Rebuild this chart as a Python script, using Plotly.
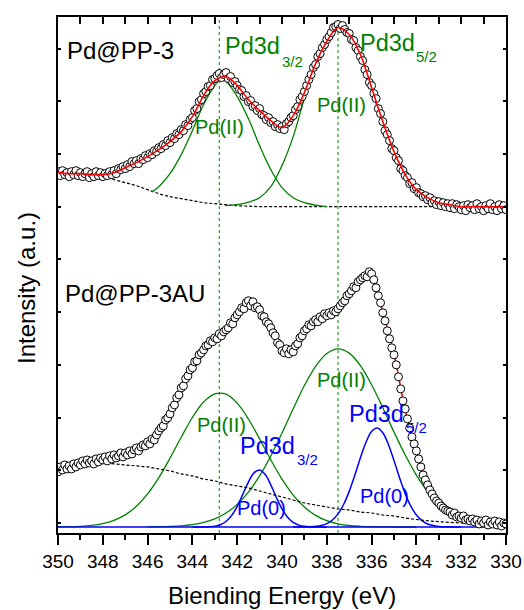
import plotly.graph_objects as go


def grid(start, stop, step):
    n = int(round((start - stop) / step)) + 1
    return [round(start - i * step, 2) for i in range(n)]


# ---------------- energies (eV) ----------------
E_DATA = grid(350, 330, 0.1)          # measured points
E_FIT = grid(350, 330, 0.5)           # top fit / background grid

# ---------------- Pd@PP-3 (top) ----------------
TOP_DATA = [
    355, 351, 356, 352, 354, 350, 355, 352, 356, 351,
    354, 350, 353, 355, 349, 353, 350, 355, 351, 354,
    350, 353, 351, 355, 352, 356, 353, 358, 357, 360,
    358, 362, 360, 365, 363, 366, 363, 368, 367, 371,
    369, 373, 372, 376, 375, 379, 378, 382, 381, 386,
    384, 389, 388, 393, 392, 397, 396, 402, 401, 407,
    409, 416, 418, 425, 427, 433, 435, 440, 441, 447,
    448, 451, 453, 449, 452, 454, 448, 450, 444, 445,
    441, 437, 436, 430, 431, 425, 426, 420, 421, 416,
    418, 412, 411, 407, 409, 404, 405, 400, 402, 398,
    400, 397, 403, 405, 409, 411, 417, 420, 427, 430,
    435, 441, 447, 452, 459, 462, 470, 473, 479, 482,
    487, 490, 494, 499, 500, 502, 498, 501, 497, 494,
    493, 487, 486, 479, 476, 470, 466, 457, 452, 444,
    441, 433, 428, 418, 413, 405, 396, 392, 386, 378,
    376, 369, 366, 358, 356, 351, 349, 343, 344, 338,
    339, 334, 333, 330, 331, 327, 329, 324, 326, 322,
    325, 321, 324, 320, 323, 319, 323, 318, 322, 320,
    317, 321, 316, 322, 319, 321, 317, 323, 318, 320,
    316, 321, 318, 323, 317, 320, 316, 322, 318, 321,
    317,
]
TOP_FIT = [354, 353, 353, 352, 352, 354, 359, 364, 370, 377, 385, 395, 410, 431,
           446, 450, 441, 427, 416, 406, 399, 411, 434, 463, 485, 499, 492, 472,
           439, 405, 375, 352, 337, 329, 324, 322, 320, 320, 320, 320, 320]
TOP_BG = [354, 353, 352, 351, 350, 347, 344, 341, 337, 333, 330, 328, 326, 324,
          323, 322, 321, 320.5, 320] + [320] * 22
E_TOP_G32 = [345.8, 345.5, 345, 344.5, 344, 343.5, 343, 342.75, 342.5, 342,
             341.5, 341, 340.5, 340, 339.5, 339, 338.5, 338]
TOP_G32 = [335, 340, 353, 372, 396, 422, 441, 447, 445, 430, 408, 381, 357,
           339, 329, 324, 321.5, 320]
E_TOP_G52 = [342.55, 342, 341.5, 341, 340.5, 340, 339.5, 339, 338.5, 338, 337.5,
             337, 336.5, 336, 335.5, 335, 334.5, 334, 333.5, 333, 332.5, 332, 331]
TOP_G52 = [321, 322, 324.5, 329, 340, 361, 390, 428, 461, 484, 497, 490, 470,
           437, 402, 371, 347, 333, 326, 322, 320.5, 320, 320]

# ---------------- Pd@PP-3AU (bottom) ----------------
BOT_DATA = [
    55, 60, 57, 62, 58, 61, 58, 63, 60, 64,
    62, 66, 63, 67, 64, 66, 63, 68, 65, 69,
    67, 70, 66, 71, 68, 72, 69, 71, 74, 70,
    74, 72, 76, 73, 77, 79, 76, 80, 82, 81,
    85, 83, 88, 87, 92, 96, 99, 101, 107, 109,
    113, 119, 122, 129, 132, 139, 141, 148, 151, 157,
    159, 165, 166, 172, 174, 177, 181, 182, 186, 185,
    189, 188, 193, 191, 195, 197, 199, 204, 203, 209,
    212, 215, 219, 218, 224, 226, 221, 225, 219, 220,
    217, 211, 210, 205, 203, 199, 194, 191, 184, 182,
    176, 174, 178, 173, 177, 175, 181, 183, 189, 191,
    196, 198, 202, 201, 205, 207, 205, 210, 208, 213,
    211, 214, 212, 216, 215, 218, 221, 224, 226, 231,
    233, 236, 240, 239, 245, 247, 249, 251, 250, 255,
    253, 247, 239, 231, 224, 214, 206, 196, 188, 179,
    172, 162, 150, 138, 126, 118, 108, 99, 90, 83,
    76, 68, 60, 52, 47, 42, 37, 33, 29, 26,
    24, 21, 19, 17, 16, 15, 12, 14, 10, 11,
    9, 11, 7, 8, 6, 8, 5, 7, 3, 6,
    4, 7, 2, 5, 3, 6, 2, 5, 1, 4,
    3,
]
E_BOT_FIT = grid(348.5, 331, 0.5)
BOT_FIT = [65, 68, 70, 73, 77, 84, 95, 113, 137, 160, 178, 188, 196, 211, 224,
           216, 200, 177, 176, 195, 206, 212, 217, 232, 246, 253, 215, 173, 117,
           77, 42, 24, 15, 10, 7, 5]
E_BOT_BG = grid(348.5, 330, 0.5)
BOT_BG = [64, 64, 63, 62, 61, 60, 58, 56, 53, 51, 48, 46, 43, 41, 39, 36, 33, 30,
          27, 24, 22, 20, 18, 17, 15, 14, 12, 11, 9, 7.5, 6.3, 5.3, 4.6, 4.0,
          3.5, 3.0, 2.5, 2.0]
E_BOT_G32 = grid(350, 334, 0.5)
BOT_G32 = [0.1, 0.3, 0.7, 1.6, 3.4, 6.7, 12.1, 20.7, 33.0, 49.3, 68.8, 89.7,
           109.4, 124.8, 133.0, 132.7, 123.7, 107.9, 88.0, 67.1, 47.8, 31.9,
           19.9, 11.6, 6.3, 3.2, 1.5, 0.7, 0.3, 0.1, 0, 0, 0]
E_BOT_G52 = grid(346, 330, 0.5)
BOT_G52 = [0.1, 0.3, 0.6, 1.2, 2.4, 4.6, 8.2, 14.0, 22.6, 34.9, 51.0, 71.0,
           93.9, 118.2, 141.3, 160.5, 173.4, 178.0, 173.7, 161.2, 142.1, 119.1,
           94.9, 71.9, 51.8, 35.4, 23.0, 14.2, 8.4, 4.7, 2.5, 1.3, 0.6]
E_BOT_B32 = grid(344, 338, 0.25)
BOT_B32 = [0, 0.02, 0.08, 0.27, 0.86, 2.3, 5.5, 11.4, 20.6, 32.6, 44.9, 54.1,
           56.9, 52.4, 42.1, 29.5, 18.1, 9.7, 4.5, 1.9, 0.66, 0.2, 0.05, 0, 0]
E_BOT_B52 = grid(339.5, 332, 0.25)
BOT_B52 = [0, 0.03, 0.09, 0.25, 0.64, 1.5, 3.4, 7.0, 13.1, 22.5, 35.6, 51.7,
           69.1, 84.7, 95.5, 99.0, 94.2, 82.5, 66.3, 49.0, 33.3, 20.8, 11.9,
           6.3, 3.0, 1.4, 0.6, 0.2, 0.1, 0, 0]
E_BLUE_BASE = [350, 330]
BLUE_BASE = [0, 0]

PEAK_REF_E = [342.8, 337.5]   # dotted guide lines

GREEN = "#008000"
RED = "#FF0000"
BLUE = "#0000FF"
FONT = "Liberation Sans, Arial, sans-serif"

fig = go.Figure()


def line(x, y, color, width=1.3, dash=None, shape="spline"):
    fig.add_trace(go.Scatter(x=x, y=y, mode="lines",
                             line=dict(color=color, width=width, dash=dash, shape=shape),
                             showlegend=False, hoverinfo="skip"))


def points(x, y):
    fig.add_trace(go.Scatter(x=x, y=y, mode="markers",
                             marker=dict(symbol="circle", size=8, color="white",
                                         line=dict(color="black", width=1)),
                             showlegend=False, hoverinfo="skip"))


# top spectrum
line(E_FIT, TOP_BG, "black", width=1.2, dash="3px,2px")
line(E_TOP_G32, TOP_G32, GREEN, width=1.3)
line(E_TOP_G52, TOP_G52, GREEN, width=1.3)
points(E_DATA, TOP_DATA)
line(E_FIT, TOP_FIT, RED, width=1.6)

# bottom spectrum
line(E_BOT_G32, BOT_G32, GREEN, width=1.3)
line(E_BOT_G52, BOT_G52, GREEN, width=1.3)
line(E_BLUE_BASE, BLUE_BASE, BLUE, width=1.5, shape="linear")
line(E_BOT_B32, BOT_B32, BLUE, width=1.5)
line(E_BOT_B52, BOT_B52, BLUE, width=1.5)
line(E_BOT_BG, BOT_BG, "black", width=1.2, dash="3px,2px")
line(E_BOT_FIT, BOT_FIT, RED, width=1.6)
points(E_DATA, BOT_DATA)

# dummy trace so the mirrored top/right axes are drawn
fig.add_trace(go.Scatter(x=[340], y=[250], xaxis="x2", yaxis="y2", mode="markers",
                         marker=dict(opacity=0), showlegend=False, hoverinfo="skip"))

for e in PEAK_REF_E:
    fig.add_vline(x=e, line=dict(color=GREEN, width=1, dash="dot"), layer="below")

Y_RANGE = [-6, 509.5]
YTICK0, YDTICK = 4, 52.67
X_RANGE = [350, 330]

fig.update_layout(
    width=524, height=610,
    margin=dict(l=58, r=18, t=17, b=77),
    paper_bgcolor="white", plot_bgcolor="white",
    showlegend=False,
    font=dict(family=FONT, color="black"),
    xaxis=dict(range=X_RANGE, tickmode="linear", tick0=330, dtick=2,
               ticks="outside", ticklen=10, tickwidth=1.5, tickcolor="black",
               showline=True, linewidth=2, linecolor="black",
               showgrid=False, zeroline=False, automargin=False,
               tickfont=dict(size=19, family=FONT, color="black"),
               minor=dict(tick0=330, dtick=1, ticks="outside", ticklen=5,
                          tickwidth=1.5, tickcolor="black", showgrid=False)),
    xaxis2=dict(range=X_RANGE, overlaying="x", side="top", anchor="y",
                tickmode="linear", tick0=330, dtick=1, ticks="inside",
                ticklen=7, tickwidth=1.5, tickcolor="black", automargin=False,
                showticklabels=False, showline=True, linewidth=2,
                linecolor="black", showgrid=False, zeroline=False),
    yaxis=dict(range=Y_RANGE, tickmode="linear", tick0=YTICK0, dtick=YDTICK,
               ticks="inside", ticklen=3, tickwidth=1.5, tickcolor="black",
               showticklabels=False, showline=True, linewidth=2, automargin=False,
               linecolor="black", showgrid=False, zeroline=False),
    yaxis2=dict(range=Y_RANGE, overlaying="y", side="right", anchor="x",
                tickmode="linear", tick0=YTICK0, dtick=YDTICK,
                ticks="inside", ticklen=3, tickwidth=1.5, tickcolor="black",
                showticklabels=False, showline=True, linewidth=2, automargin=False,
                linecolor="black", showgrid=False, zeroline=False),
)


def label(text, x, y, size, color, xanchor="left"):
    fig.add_annotation(text=text, x=x, y=y, xref="x", yref="y",
                       xanchor=xanchor, yanchor="middle", showarrow=False,
                       font=dict(size=size, color=color, family=FONT))


# top labels
label("Pd@PP-3", 349.69, 476, 24, "black")
label("Pd3d", 342.63, 481, 23.5, GREEN)
label("3/2", 340.09, 465, 15, GREEN)
label("Pd3d", 336.61, 484, 23.5, GREEN)
label("5/2", 334.11, 470, 15, GREEN)
label("Pd(II)", 343.97, 400, 20, GREEN)
label("Pd(II)", 338.53, 422, 20, GREEN)

# bottom labels
label("Pd@PP-3AU", 349.78, 233.5, 24, "black")
label("Pd(II)", 343.88, 102, 20, GREEN)
label("Pd(II)", 338.53, 147, 20, GREEN)
label("Pd3d", 341.96, 81, 23.5, BLUE)
label("3/2", 339.42, 67, 15, BLUE)
label("Pd3d", 337.10, 113, 23.5, BLUE)
label("5/2", 334.55, 99.5, 15, BLUE)
label("Pd(0)", 342.10, 19, 20, BLUE)
label("Pd(0)", 336.61, 31, 20, BLUE)

# axis titles
fig.add_annotation(text="Biending Energy (eV)", x=0.5, y=-0.1202, xref="paper",
                   yref="paper", xanchor="center", yanchor="middle",
                   showarrow=False, font=dict(size=24, family=FONT, color="black"))
fig.add_annotation(text="Intensity (a.u.)", x=-0.0714, y=0.4748, xref="paper",
                   yref="paper", xanchor="center", yanchor="middle",
                   textangle=-90, showarrow=False,
                   font=dict(size=24, family=FONT, color="black"))

fig.write_html("out.html",
               config={"displayModeBar": False},
               post_script="document.body.style.margin='0px';"
                           "document.body.style.padding='0px';")
